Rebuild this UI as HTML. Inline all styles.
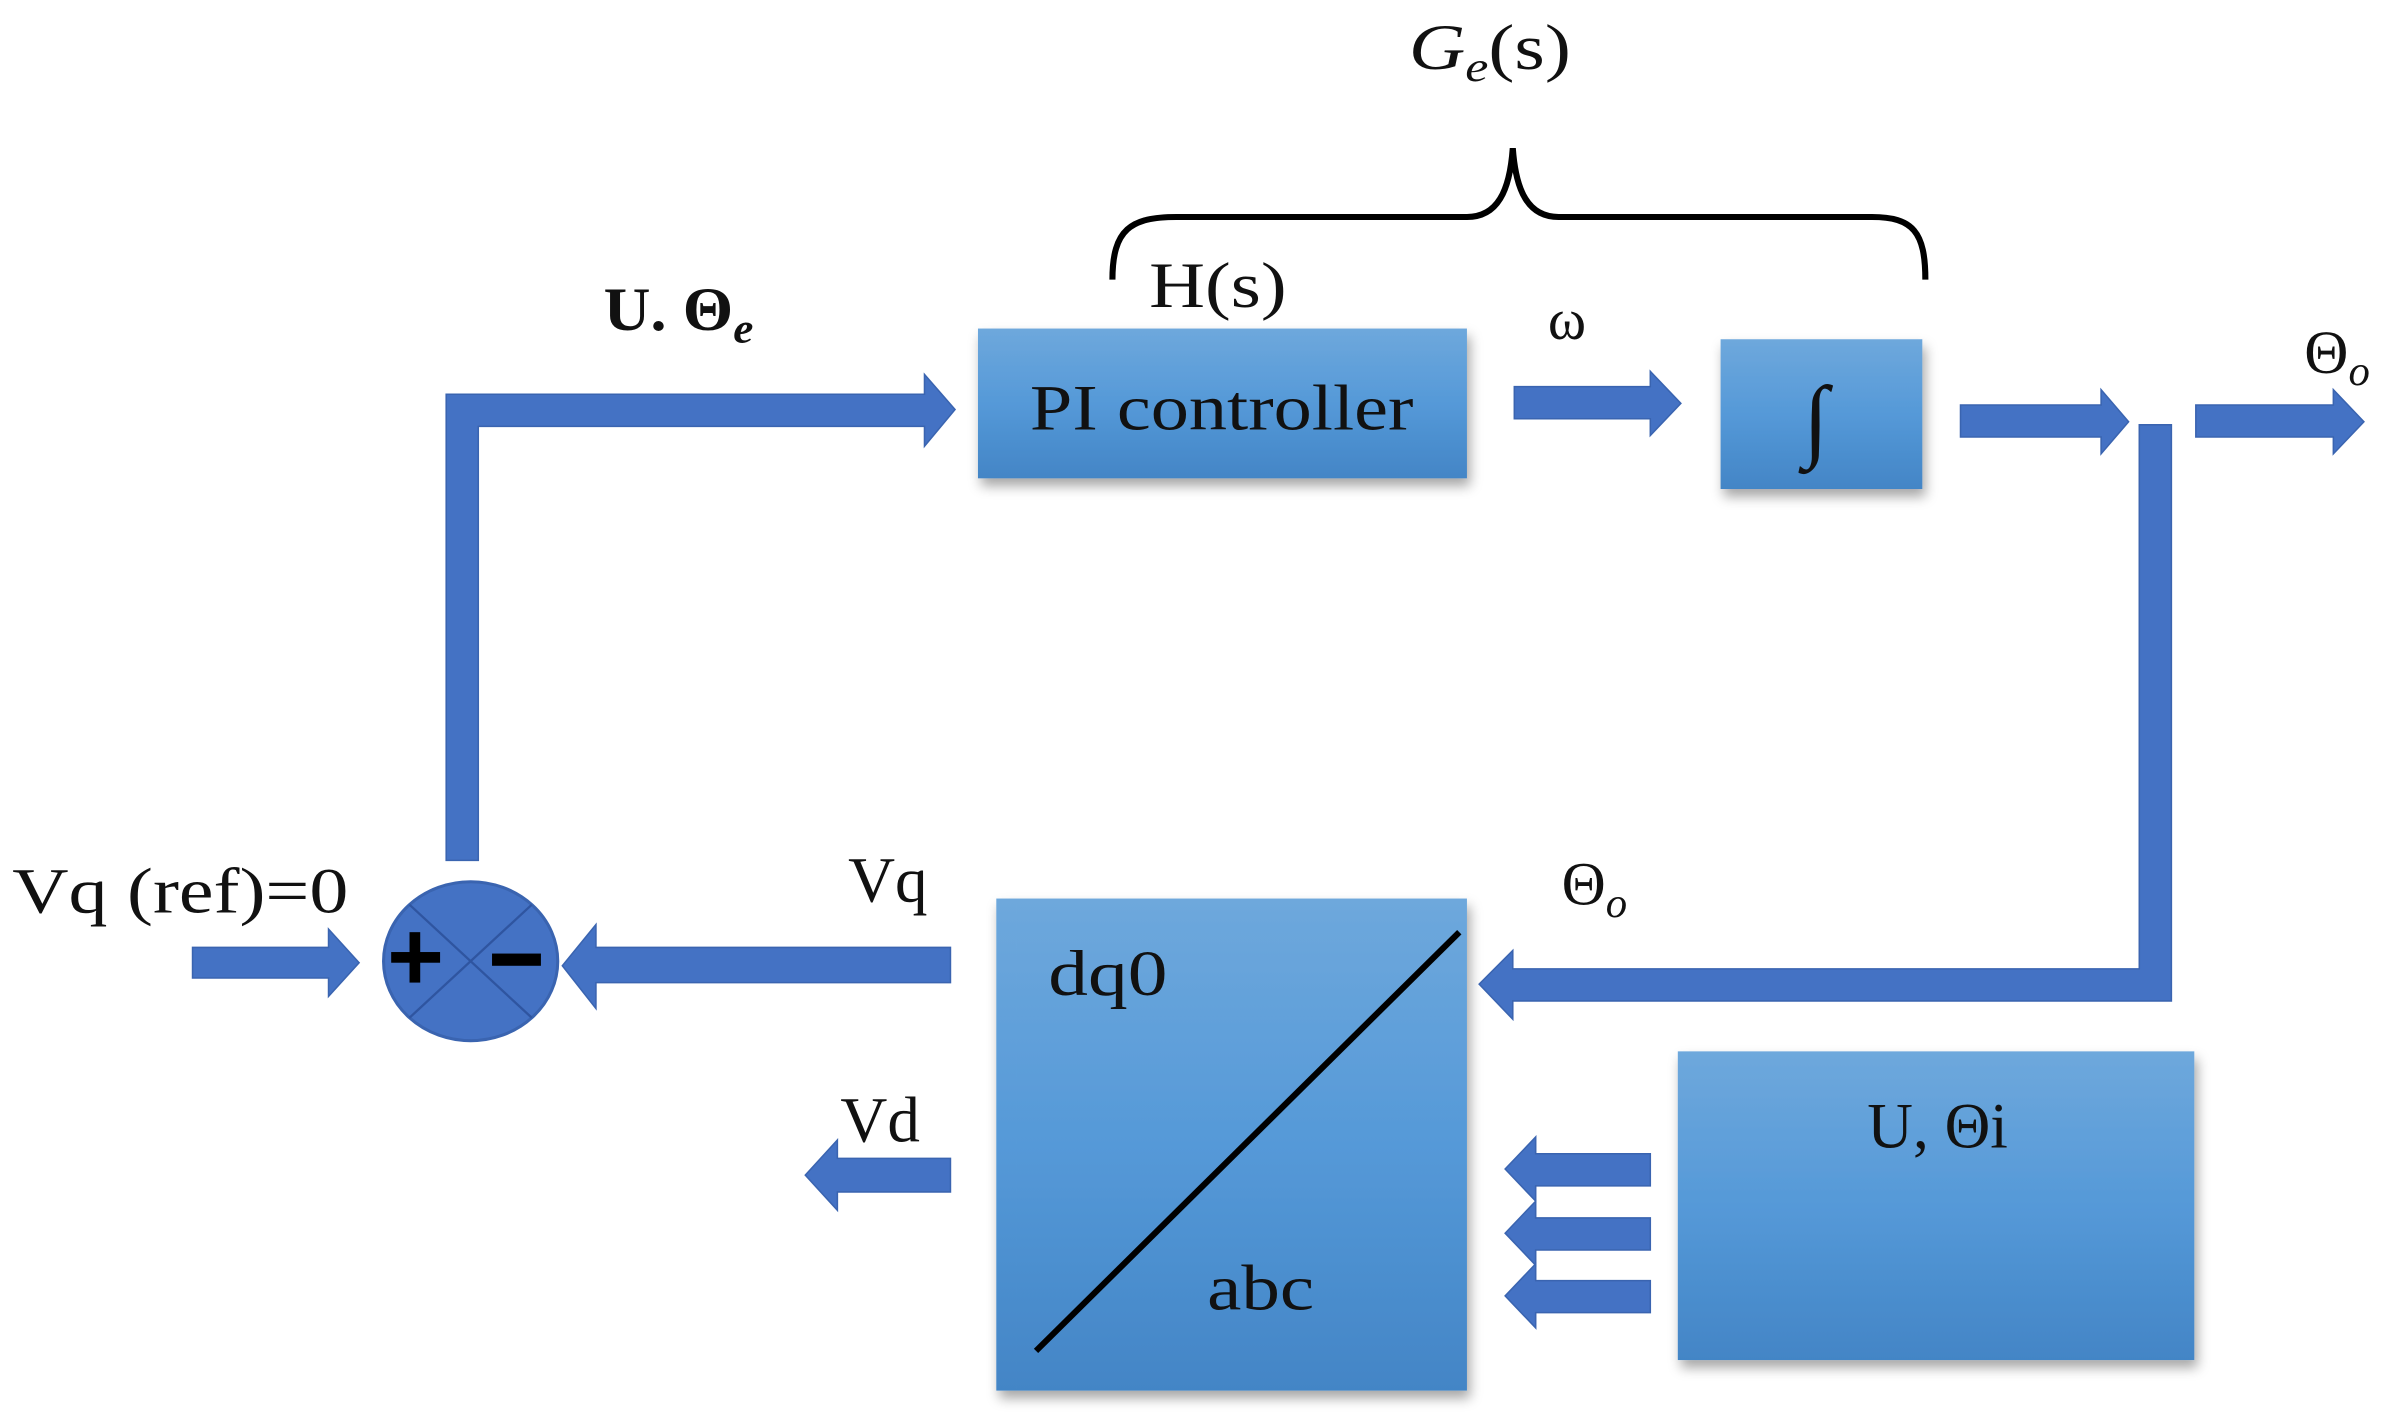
<!DOCTYPE html>
<html><head><meta charset="utf-8"><style>
html,body{margin:0;padding:0;background:#fff;}
svg{display:block;}
text{font-family:"Liberation Serif","DejaVu Serif",serif;fill:#111;}
</style></head><body>
<svg width="2396" height="1412" viewBox="0 0 1568 924" preserveAspectRatio="none" xmlns="http://www.w3.org/2000/svg">
<defs>
<linearGradient id="g" x1="0" y1="0" x2="0" y2="1">
<stop offset="0" stop-color="#6ea8dc"/><stop offset="0.5" stop-color="#5599d8"/><stop offset="1" stop-color="#4385c6"/></linearGradient>
<filter id="sh" x="-10%" y="-10%" width="125%" height="130%"><feDropShadow dx="2" dy="5" stdDeviation="4" flood-color="#000" flood-opacity="0.35"/></filter>
</defs>
<rect x="640" y="215" width="320" height="98" fill="url(#g)" filter="url(#sh)"/>
<rect x="1126" y="222" width="132" height="98" fill="url(#g)" filter="url(#sh)"/>
<rect x="652" y="588" width="308" height="322" fill="url(#g)" filter="url(#sh)"/>
<rect x="1098" y="688" width="338" height="202" fill="url(#g)" filter="url(#sh)"/>
<line x1="678" y1="884" x2="955" y2="610" stroke="#000" stroke-width="4"/>
<g fill="#4472c4" stroke="#3a64b0" stroke-width="1">
<polygon points="292,563 292,258 605,258 605,245 625,268 605,292 605,279 313,279 313,563"/>
<polygon points="991,253 1080,253 1080,243 1100,264 1080,285 1080,274 991,274"/>
<polygon points="1283,265 1375,265 1375,255 1393,276 1375,297 1375,286 1283,286"/>
<polygon points="1437,265 1527,265 1527,255 1547,276 1527,297 1527,286 1437,286"/>
<polygon points="1400,278 1421,278 1421,655 990,655 990,667 968,644 990,622 990,634 1400,634"/>
<polygon points="126,620 215,620 215,608 235,630 215,652 215,640 126,640"/>
<polygon points="622,620 622,643 390,643 390,660 368,632 390,605 390,620"/>
<polygon points="622,758 622,780 548,780 548,792 527,769 548,746 548,758"/>
<polygon points="1080,755 1080,776 1005,776 1005,786 985,765 1005,744 1005,755"/>
<polygon points="1080,797 1080,818 1005,818 1005,828 985,807 1005,786 1005,797"/>
<polygon points="1080,838 1080,859 1005,859 1005,869 985,848 1005,827 1005,838"/>
</g>
<ellipse cx="308" cy="629" rx="57" ry="52" fill="#4472c4" stroke="#3a64b0" stroke-width="2"/>
<line x1="268" y1="592" x2="348" y2="666" stroke="#2f55a0" stroke-width="1.5"/>
<line x1="348" y1="592" x2="268" y2="666" stroke="#2f55a0" stroke-width="1.5"/>
<rect x="256" y="623" width="32" height="7" fill="#000"/><rect x="268" y="610" width="7" height="33" fill="#000"/>
<rect x="322" y="624" width="32" height="8" fill="#000"/>
<path d="M728,183 C728,150 740,142 770,142 L960,142 C980,142 988,125 990,97 C992,125 1000,142 1020,142 L1225,142 C1252,142 1260,152 1260,183" fill="none" stroke="#000" stroke-width="4"/>
<text x="922" y="45" font-size="42" font-style="italic" textLength="106" lengthAdjust="spacingAndGlyphs">G<tspan font-size="28" dy="8">e</tspan><tspan dy="-8" font-style="normal">(s)</tspan></text>
<text x="752" y="201" font-size="42" textLength="90" lengthAdjust="spacingAndGlyphs">H(s)</text>
<text x="395" y="216" font-size="40" font-weight="bold" textLength="98" lengthAdjust="spacingAndGlyphs">U. Θ<tspan font-size="28" dy="8" font-style="italic">e</tspan></text>
<text x="1013" y="222" font-size="38">ω</text>
<text x="1508" y="244" font-size="40">Θ<tspan font-size="28" dy="8" font-style="italic">o</tspan></text>
<text x="674" y="281" font-size="42" textLength="251" lengthAdjust="spacingAndGlyphs">PI controller</text>
<text x="1180" y="294" font-size="60">∫</text>
<text x="8" y="597" font-size="42" textLength="220" lengthAdjust="spacingAndGlyphs">Vq (ref)=0</text>
<text x="555" y="590" font-size="42" textLength="52" lengthAdjust="spacingAndGlyphs">Vq</text>
<text x="1022" y="592" font-size="40">Θ<tspan font-size="28" dy="8" font-style="italic">o</tspan></text>
<text x="550" y="747" font-size="42" textLength="52" lengthAdjust="spacingAndGlyphs">Vd</text>
<text x="686" y="651" font-size="42" textLength="78" lengthAdjust="spacingAndGlyphs">dq0</text>
<text x="790" y="857" font-size="42" textLength="70" lengthAdjust="spacingAndGlyphs">abc</text>
<text x="1222" y="751" font-size="42" textLength="92" lengthAdjust="spacingAndGlyphs">U, Θi</text>
</svg>
</body></html>
